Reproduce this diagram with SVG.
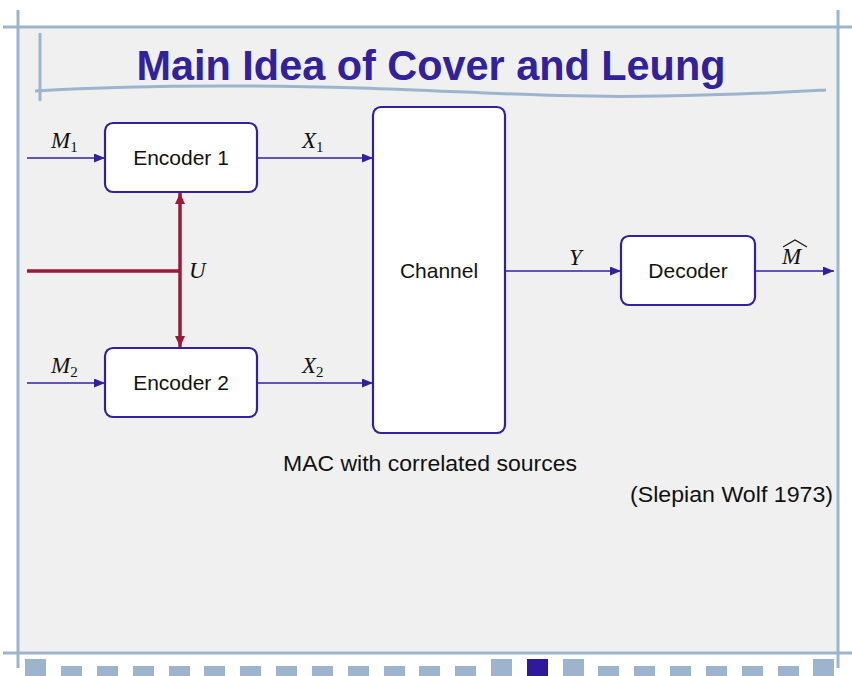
<svg xmlns="http://www.w3.org/2000/svg" width="852" height="676" viewBox="0 0 852 676">
<defs>
<style>
.frame{stroke:#9db4cf;stroke-width:3;fill:none}
.box{fill:#ffffff;stroke:#3220a0;stroke-width:2.2}
.lbl{font-family:"Liberation Sans",Arial,sans-serif;font-size:21px;fill:#111;text-anchor:middle}
.cap{font-size:22.5px}
.math{font-family:"Liberation Serif","Times New Roman",serif;font-style:italic;font-size:23px;fill:#111}
.sub{font-style:normal;font-size:15px}
.conn{stroke:#3220a0;stroke-width:1.7;fill:none}
.red{stroke:#9b1a3a;stroke-width:3.5;fill:none}
.nav{fill:#9db4cf}
</style>
<marker id="ah" markerWidth="11" markerHeight="9" refX="11" refY="4.5" orient="auto" markerUnits="userSpaceOnUse">
<path d="M0,0 L11,4.5 L0,9 Z" fill="#3220a0"/>
</marker>
<marker id="rh" markerWidth="11" markerHeight="10" refX="11" refY="5" orient="auto-start-reverse" markerUnits="userSpaceOnUse">
<path d="M0,0 L11,5 L0,10 Z" fill="#9b1a3a"/>
</marker>
</defs>
<rect x="0" y="0" width="852" height="676" fill="#ffffff"/>
<rect x="18" y="27" width="820" height="626" fill="#f0f0f0"/>
<g id="frame">
<line class="frame" x1="3" y1="27" x2="852" y2="27"/>
<line class="frame" x1="3" y1="653" x2="852" y2="653"/>
<line class="frame" x1="18" y1="10" x2="18" y2="668"/>
<line class="frame" x1="838" y1="10" x2="838" y2="668"/>
<line class="frame" x1="40" y1="33" x2="40" y2="101"/>
<path class="frame" d="M35,91 C120,86 220,84 360,88 C480,92 560,98 660,96 C740,95 790,92 826,90"/>
</g>
<text x="431" y="80" font-family="Liberation Sans,Arial,sans-serif" font-weight="bold" font-size="42" fill="#31219c" text-anchor="middle" textLength="589" lengthAdjust="spacingAndGlyphs">Main Idea of Cover and Leung</text>
<g id="connectors">
<line class="conn" x1="27" y1="158" x2="105" y2="158" marker-end="url(#ah)"/>
<line class="conn" x1="27" y1="383" x2="105" y2="383" marker-end="url(#ah)"/>
<line class="conn" x1="257" y1="158" x2="373" y2="158" marker-end="url(#ah)"/>
<line class="conn" x1="257" y1="383" x2="373" y2="383" marker-end="url(#ah)"/>
<line class="conn" x1="505" y1="271" x2="621" y2="271" marker-end="url(#ah)"/>
<line class="conn" x1="755" y1="271" x2="834" y2="271" marker-end="url(#ah)"/>
<line class="red" x1="27" y1="271" x2="180" y2="271"/>
<line class="red" x1="180" y1="193" x2="180" y2="347" marker-start="url(#rh)" marker-end="url(#rh)"/>
<text class="math" x="51" y="148">M<tspan class="sub" dy="4">1</tspan></text>
<text class="math" x="51" y="373">M<tspan class="sub" dy="4">2</tspan></text>
<text class="math" x="302" y="148">X<tspan class="sub" dy="4">1</tspan></text>
<text class="math" x="302" y="373">X<tspan class="sub" dy="4">2</tspan></text>
<text class="math" x="569" y="265">Y</text>
<text class="math" x="782" y="264">M</text>
<path d="M783,247 L795,240 L807,247" stroke="#111" stroke-width="1.1" fill="none"/>
<text class="math" x="189" y="278">U</text>
</g>
<g id="encoder1">
<rect class="box" x="105" y="123" width="152" height="69" rx="8"/>
<text class="lbl" x="181" y="165">Encoder 1</text>
</g>
<g id="encoder2">
<rect class="box" x="105" y="348" width="152" height="69" rx="8"/>
<text class="lbl" x="181" y="390">Encoder 2</text>
</g>
<g id="channel">
<rect class="box" x="373" y="107" width="132" height="326" rx="8"/>
<text class="lbl" x="439" y="278">Channel</text>
</g>
<g id="decoder">
<rect class="box" x="621" y="236" width="134" height="69" rx="8"/>
<text class="lbl" x="688" y="278">Decoder</text>
</g>
<text class="lbl cap" x="430" y="471" textLength="294" lengthAdjust="spacingAndGlyphs">MAC with correlated sources</text>
<text class="lbl cap" x="731.5" y="502" textLength="203" lengthAdjust="spacingAndGlyphs">(Slepian Wolf 1973)</text>
<g id="nav">
<rect class="nav" x="25" y="659" width="21" height="17"/>
<rect class="nav" x="61" y="666" width="21" height="10"/>
<rect class="nav" x="97" y="666" width="21" height="10"/>
<rect class="nav" x="133" y="666" width="21" height="10"/>
<rect class="nav" x="169" y="666" width="21" height="10"/>
<rect class="nav" x="204" y="666" width="21" height="10"/>
<rect class="nav" x="240" y="666" width="21" height="10"/>
<rect class="nav" x="276" y="666" width="21" height="10"/>
<rect class="nav" x="312" y="666" width="21" height="10"/>
<rect class="nav" x="348" y="666" width="21" height="10"/>
<rect class="nav" x="384" y="666" width="21" height="10"/>
<rect class="nav" x="419" y="666" width="21" height="10"/>
<rect class="nav" x="455" y="666" width="21" height="10"/>
<rect class="nav" x="491" y="659" width="21" height="17"/>
<rect x="527" y="659" width="21" height="17" fill="#31199c"/>
<rect class="nav" x="563" y="659" width="21" height="17"/>
<rect class="nav" x="598" y="666" width="21" height="10"/>
<rect class="nav" x="634" y="666" width="21" height="10"/>
<rect class="nav" x="670" y="666" width="21" height="10"/>
<rect class="nav" x="706" y="666" width="21" height="10"/>
<rect class="nav" x="742" y="666" width="21" height="10"/>
<rect class="nav" x="778" y="666" width="21" height="10"/>
<rect class="nav" x="813" y="659" width="21" height="17"/>
</g>
</svg>
